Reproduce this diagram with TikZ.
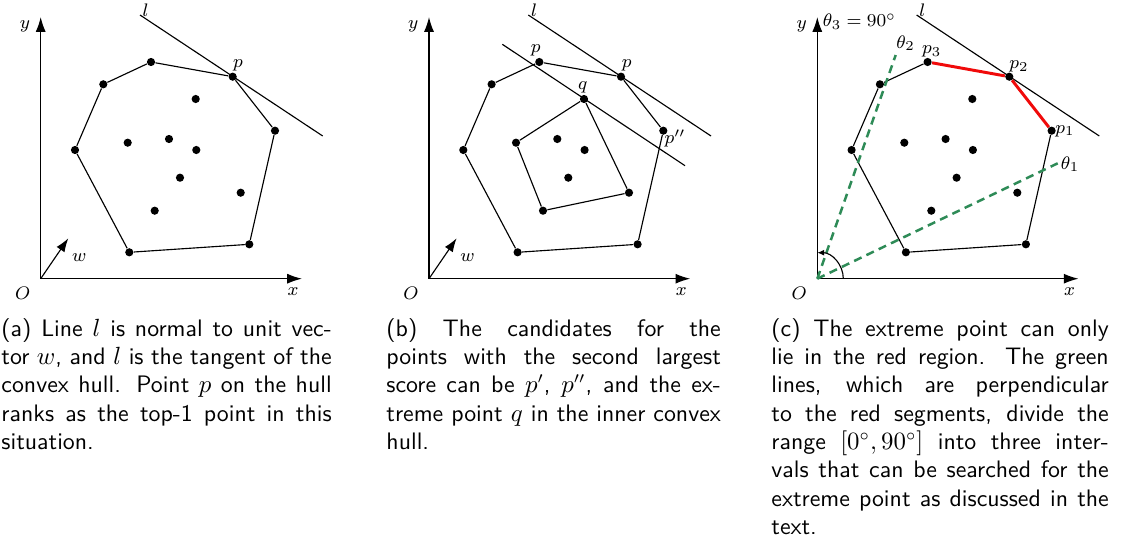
\documentclass[tikz,border=0pt]{standalone}
\usepackage{amsmath,amssymb}
\usetikzlibrary{arrows.meta, positioning}
\definecolor{segred}{RGB}{240,10,10}
\definecolor{dashgreen}{RGB}{46,139,87}

\begin{document}
\begin{tikzpicture}[x=0.4405pt, y=0.4405pt,
    axis/.style={line width=0.6pt, -{Latex[length=6.5pt,width=4.4pt]}},
    vec/.style={line width=0.5pt, -{Latex[length=6pt,width=4.2pt]}},
    arcvec/.style={line width=0.5pt, -{Latex[length=3pt,width=2.6pt]}},
    hull/.style={line width=0.5pt},
    tangent/.style={line width=0.5pt},
    dot/.style={circle, fill=black, inner sep=0pt, minimum size=3.6pt},
    lbl/.style={font=\footnotesize, inner sep=0pt},
    redseg/.style={line width=1.3pt, segred, line join=round},
    greenseg/.style={line width=1.1pt, dashgreen, dash pattern=on 3.6pt off 2.4pt},
    captxt/.style={font=\fontsize{10.5pt}{12.5pt}\selectfont\sffamily, align=justify, inner sep=0pt, anchor=base west}
]
\useasboundingbox (0,0) rectangle (1124,546);

% axes, tangent l and the points: the same in all three panels
\foreach \pn/\ox in {a/40.7, b/429, c/817.3}{
  \begin{scope}[shift={(\ox,267.3)}]
    \coordinate (\pn-O) at (0,0);
    \coordinate (\pn-x) at (261.3,0);
    \coordinate (\pn-y) at (0,261.7);
    \coordinate (\pn-l1) at (99.3,263.7);
    \coordinate (\pn-l2) at (282,142.7);
    \foreach \k/\px/\py in {v1/110.3/216.7, v2/192/202, v3/234.3/148, v4/208.6/34.4,
        v5/88.6/26.4, v6/34.3/128.7, v7/62.6/194.4, u1/155/179.7, u2/87/136,
        u3/128.3/139.7, u4/155.6/128.7, u5/139.3/101, u6/200/86, u7/114/68}
      \node[dot] (\pn-\k) at (\px,\py) {};
    \draw[hull] (\pn-v1) -- (\pn-v2) -- (\pn-v3) -- (\pn-v4) -- (\pn-v5) -- (\pn-v6) -- (\pn-v7) -- (\pn-v1);
    \draw[axis] (\pn-O) -- (\pn-x);
    \draw[axis] (\pn-O) -- (\pn-y);
    \draw[tangent] (\pn-l1) -- (\pn-l2);
    \node[lbl] (\pn-Olbl) at (-18,-14.3) {$O$};
    \node[lbl] (\pn-xlbl) at (252.3,-13) {$x$};
    \node[lbl] (\pn-ylbl) at (-15.7,252) {$y$};
    \node[lbl] (\pn-llbl) at (105,268.7) {$l$};
  \end{scope}
}

% (a)
\begin{scope}[shift={(40.7,267.3)}]
  \coordinate (a-w) at (27.6,40.4);
  \node[lbl] (a-wlbl) at (38.6,20.7) {$w$};
  \node[lbl] (a-plbl) at (197.3,213.7) {$p$};
\end{scope}
\draw[vec] (a-O) -- (a-w);

% (b)
\begin{scope}[shift={(429,267.3)}]
  \coordinate (b-w) at (27.6,40.4);
  \coordinate (b-m1) at (73.3,234.4);
  \coordinate (b-m2) at (256,113);
  \node[lbl] (b-wlbl) at (38.6,20.7) {$w$};
  \node[lbl] (b-p1lbl) at (106.7,228.7) {$p$};
  \node[lbl] (b-p2lbl) at (197.7,213.7) {$p$};
  \node[lbl] (b-qlbl) at (153.7,191.4) {$q$};
  \node[lbl] (b-p3lbl) at (246,140.4) {$p''$};
\end{scope}
\draw[vec] (b-O) -- (b-w);
\draw[tangent] (b-m1) -- (b-m2);
\draw[hull] (b-u1) -- (b-u6) -- (b-u7) -- (b-u2) -- (b-u1);

% (c)
\begin{scope}[shift={(817.3,267.3)}]
  \coordinate (c-t1) at (240.4,115.4);
  \coordinate (c-t2) at (78.4,223.7);
  \node[lbl, anchor=west] (c-t3lbl) at (5,257) {$\theta_3=90^\circ$};
  \node[lbl] (c-t2lbl) at (88.4,235.4) {$\theta_2$};
  \node[lbl] (c-t1lbl) at (252.7,114.7) {$\theta_1$};
  \node[lbl] (c-p3lbl) at (114.4,227) {$p_3$};
  \node[lbl] (c-p2lbl) at (201.7,212) {$p_2$};
  \node[lbl] (c-p1lbl) at (247.7,147.7) {$p_1$};
\end{scope}
\draw[redseg] (c-v1) -- (c-v2) -- (c-v3);
\draw[greenseg] (c-O) -- (c-t1);
\draw[greenseg] (c-O) -- (c-t2);
\draw[arcvec] (c-O) ++(26,0) arc[start angle=0, end angle=90, radius=26];

% captions
\node[captxt, text width=145.5pt] (capa) at (1,210)
  {(a) Line $l$ is normal to unit vec-\linebreak tor $w$, and $l$ is the tangent of the\linebreak
   convex hull. Point $p$ on the hull\linebreak ranks as the top-1 point in this\linebreak situation.};
\node[captxt, text width=147.3pt] (capb) at (386,210)
  {(b) The candidates for the\linebreak points with the second largest\linebreak
   score can be $p'$, $p''$, and the ex-\linebreak treme point $q$ in the inner convex\linebreak hull.};
\node[captxt, text width=148.6pt] (capc) at (771,210)
  {(c) The extreme point can only\linebreak lie in the red region. The green\linebreak
   lines, which are perpendicular\linebreak to the red segments, divide the\linebreak
   range $[0^\circ, 90^\circ]$ into three inter-\linebreak vals that can be searched for the\linebreak
   extreme point as discussed in the\linebreak text.};
\end{tikzpicture}
\end{document}
